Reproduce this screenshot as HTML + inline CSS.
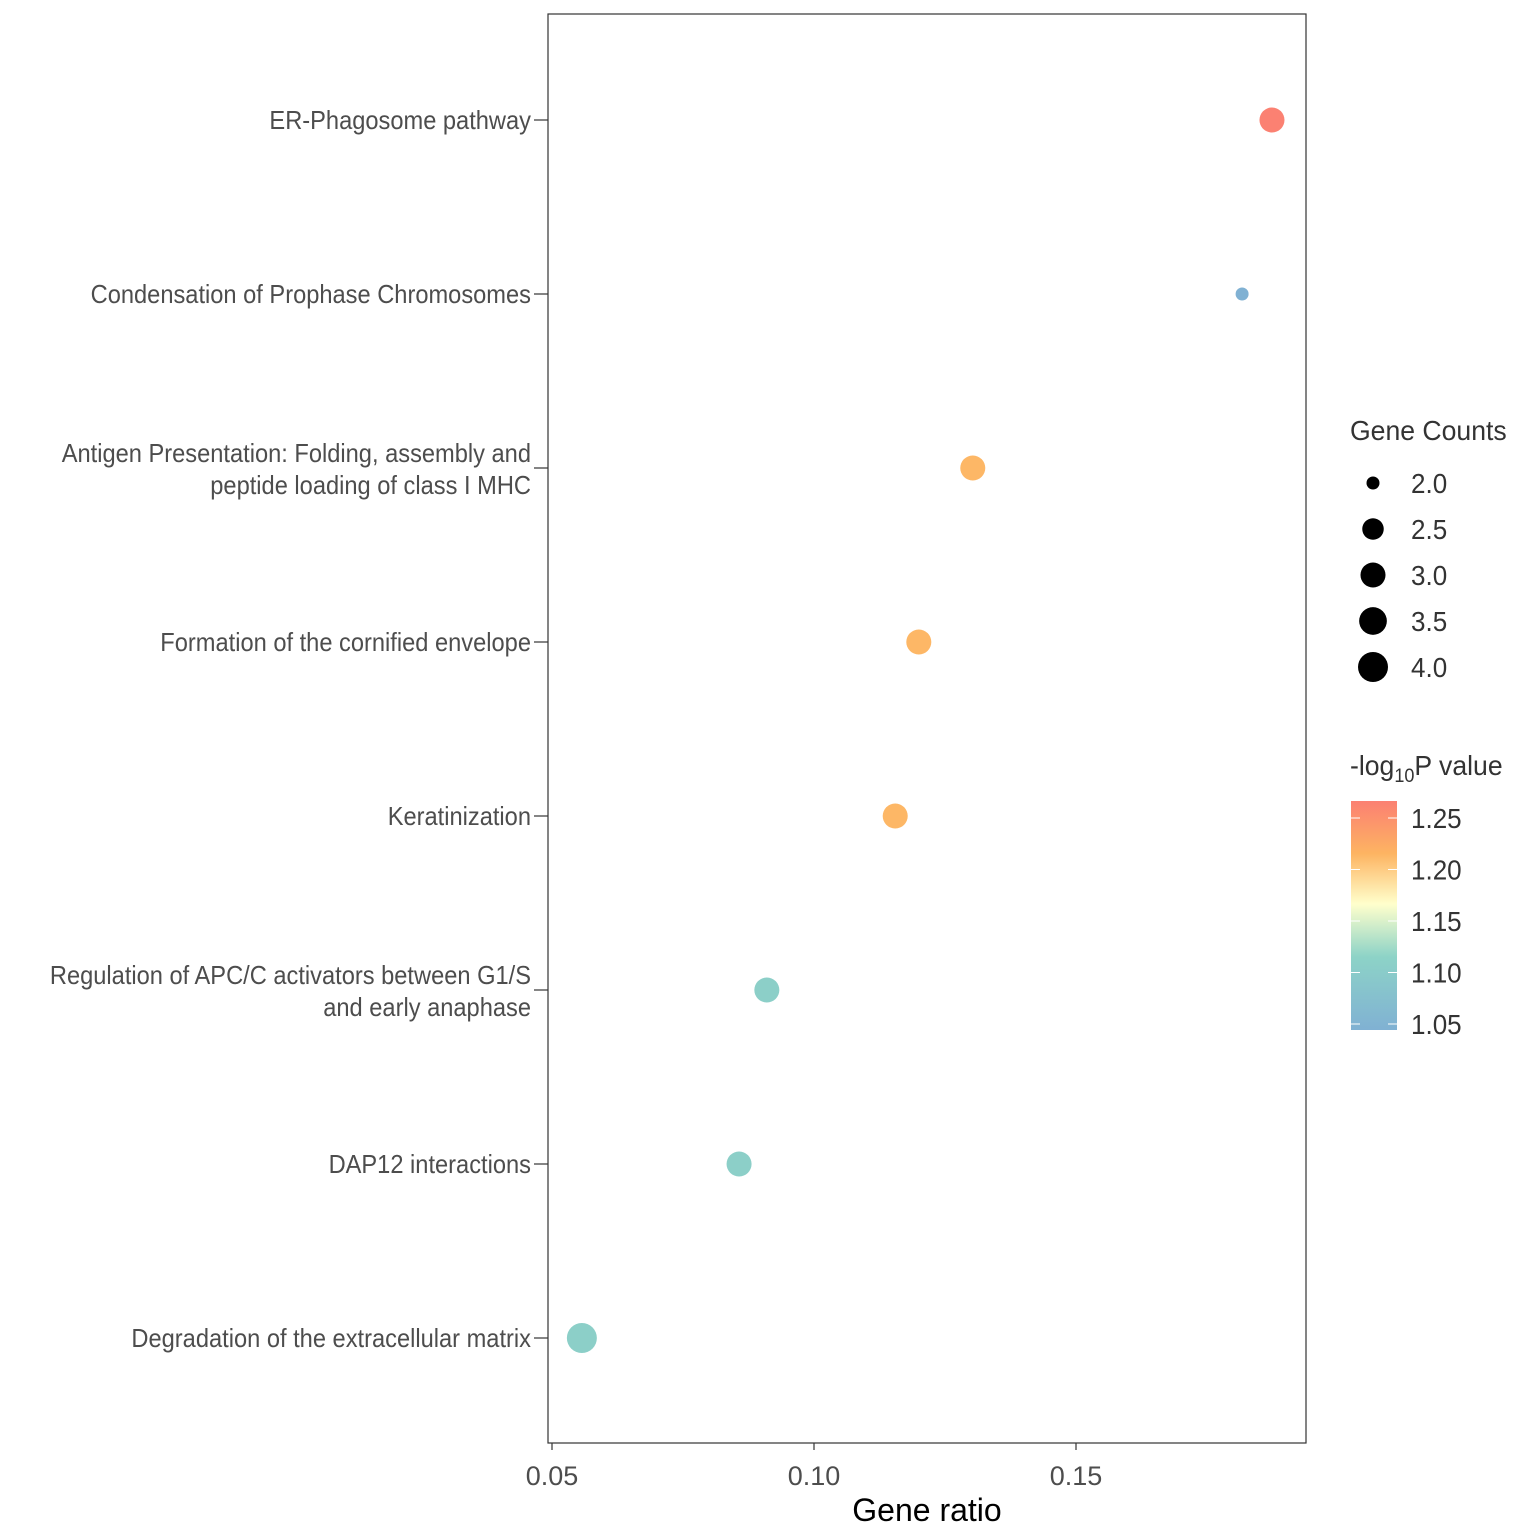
<!DOCTYPE html>
<html><head><meta charset="utf-8">
<style>
html,body{margin:0;padding:0;background:#fff;}
svg{display:block;font-family:"Liberation Sans",sans-serif;}
</style></head>
<body>
<svg id="chart" width="1536" height="1536" viewBox="0 0 1536 1536">
<defs>
<linearGradient id="cbar" x1="0" y1="1" x2="0" y2="0">
<stop offset="0" stop-color="#80b1d3"/>
<stop offset="0.32" stop-color="#8dd3c7"/>
<stop offset="0.55" stop-color="#ffffcc"/>
<stop offset="0.77" stop-color="#fdb462"/>
<stop offset="1" stop-color="#fb8072"/>
</linearGradient>
</defs>
<rect x="548" y="14" width="758" height="1429" fill="#fff" stroke="#333" stroke-width="1.2"/>
<g id="yaxis"></g>
<g id="xaxis"></g>
<g id="points"></g>
<text x="927" y="1521" font-size="32" text-anchor="middle" fill="#000">Gene ratio</text>
<g>
<text x="1350" y="440" font-size="28" fill="#333" transform="translate(1350,0) scale(0.95,1) translate(-1350,0)">Gene Counts</text>
<g id="sizeleg"></g>
</g>
<g>
<text x="1350" y="775" font-size="28" fill="#333" transform="translate(1350,0) scale(0.95,1) translate(-1350,0)">-log<tspan font-size="19" dy="7">10</tspan><tspan dy="-7">P value</tspan></text>
<rect x="1351" y="801" width="46" height="229" fill="url(#cbar)"/>
<g id="colorleg"></g>
</g>
</svg>
<script>
const categories = ["ER-Phagosome pathway","Condensation of Prophase Chromosomes","Antigen Presentation: Folding, assembly and|peptide loading of class I MHC","Formation of the cornified envelope","Keratinization","Regulation of APC/C activators between G1/S|and early anaphase","DAP12 interactions","Degradation of the extracellular matrix"];
const geneRatio = [0.1874,0.1817,0.1303,0.1200,0.1155,0.0910,0.0857,0.0557];
const geneCounts = [3,2,3,3,3,3,3,4];
const logP = [1.266,1.038,1.212,1.212,1.212,1.103,1.103,1.103];
const xTicks = [0.05,0.10,0.15];
const xTickLabels = ["0.05","0.10","0.15"];
const sizeTicks = [2.0,2.5,3.0,3.5,4.0];
const colorTicks = [1.05,1.10,1.15,1.20,1.25];

const NS="http://www.w3.org/2000/svg";
function mk(tag,attrs,parent){const e=document.createElementNS(NS,tag);for(const k in attrs)e.setAttribute(k,attrs[k]);parent.appendChild(e);return e;}
const xS=v=>552+(v-0.05)*5240;
const yS=i=>120+i*174;
const rS=c=>6.5+8.5*Math.sqrt(Math.max(0,(c-2)/2));
const cY=v=>1024-(v-1.05)/0.05*51.5;
const stops=[[1.038,[128,177,211]],[1.111,[141,211,199]],[1.164,[255,255,204]],[1.214,[253,180,98]],[1.267,[251,128,114]]];
function col(v){if(v<=stops[0][0])return `rgb(${stops[0][1]})`;for(let i=1;i<stops.length;i++){if(v<=stops[i][0]){const t=(v-stops[i-1][0])/(stops[i][0]-stops[i-1][0]);const a=stops[i-1][1],b=stops[i][1];return `rgb(${a.map((x,j)=>Math.round(x+(b[j]-x)*t)).join(',')})`;}}return `rgb(${stops[4][1]})`;}

const ya=document.getElementById('yaxis');
categories.forEach((c,i)=>{
  const y=yS(i);
  const tk=mk('line',{x1:534,x2:548,y1:y,y2:y,stroke:'#333','stroke-width':1.2},ya);
  
  
  const parts=c.split('|');
  const t=mk('text',{x:531,'font-size':26,'text-anchor':'end',fill:'#4d4d4d',transform:'translate(531,0) scale(0.91,1) translate(-531,0)'},ya);
  
  
  const y0=parts.length==1?y+9:y-6;
  parts.forEach((p,j)=>{const s=mk('tspan',{x:531,y:y0+j*32},t);s.textContent=p;});
});
const xa=document.getElementById('xaxis');
xTicks.forEach((v,i)=>{
  const x=xS(v);
  const tk=mk('line',{x1:x,x2:x,y1:1443,y2:1450,stroke:'#333','stroke-width':1.2},xa);
  
  
  const t=mk('text',{x:x,y:1485,'font-size':27,'text-anchor':'middle',fill:'#4d4d4d'},xa);
  
  
  t.textContent=xTickLabels[i];
});
const pg=document.getElementById('points');
geneRatio.forEach((v,i)=>{
  const c=mk('circle',{cx:xS(v),cy:yS(i),r:rS(geneCounts[i]),fill:col(logP[i])},pg);
  
  
});
const sl=document.getElementById('sizeleg');
sizeTicks.forEach((v,i)=>{
  const y=483+i*46;
  const c=mk('circle',{cx:1373,cy:y,r:rS(v),fill:'#000'},sl);
  
  
  const t=mk('text',{x:1411,y:y+10,'font-size':28,fill:'#333',transform:'translate(1411,0) scale(0.93,1) translate(-1411,0)'},sl);
  
  
  t.textContent=v.toFixed(1);
});
const cl=document.getElementById('colorleg');
colorTicks.forEach(v=>{
  const y=cY(v);
  mk('line',{x1:1351,x2:1360,y1:y,y2:y,stroke:'#fff','stroke-width':1},cl);
  mk('line',{x1:1388,x2:1397,y1:y,y2:y,stroke:'#fff','stroke-width':1},cl);
  const t=mk('text',{x:1411,y:y+10,'font-size':28,fill:'#333',transform:'translate(1411,0) scale(0.93,1) translate(-1411,0)'},cl);
  
  
  t.textContent=v.toFixed(2);
});
</script>
</body></html>
